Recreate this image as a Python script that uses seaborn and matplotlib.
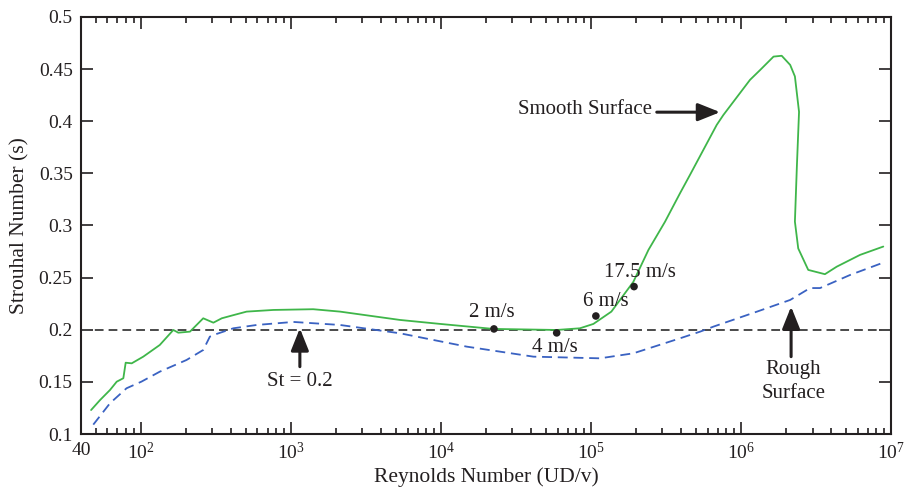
import matplotlib
matplotlib.use("Agg")
import matplotlib.pyplot as plt
import matplotlib.ticker as mticker
import pandas as pd
import seaborn as sns

# ── Data ─────────────────────────────────────────────────────────────────────
smooth_re = [46.7, 53.6, 62.4, 69.2, 76.6, 79.4, 87.1, 104, 134, 165, 178, 213,
             261, 305, 347, 414, 508, 766, 1410, 2130, 5350, 9890, 22400,
             59200, 84500, 104000, 137000, 192000, 242000, 312000, 393000,
             458000, 690000, 764000, 1150000, 1340000, 1650000, 1870000,
             2130000, 2290000, 2440000, 2360000, 2290000, 2410000, 2810000,
             3630000, 4350000, 6220000, 8890000]
smooth_st = [0.123, 0.1326, 0.1422, 0.1502, 0.1535, 0.1684, 0.1678, 0.1742,
             0.1854, 0.1998, 0.1972, 0.1982, 0.2110, 0.2068, 0.2110, 0.2140,
             0.2174, 0.2190, 0.2197, 0.2174, 0.2094, 0.2056, 0.2008, 0.1998,
             0.2014, 0.2056, 0.2174, 0.2460, 0.2766, 0.3036, 0.3310, 0.3486,
             0.3965, 0.4060, 0.4397, 0.4490, 0.4620, 0.4628, 0.4540, 0.4430,
             0.4090, 0.3565, 0.3037, 0.2780, 0.2574, 0.2533, 0.2605, 0.2718,
             0.2798]

rough_re = [48.3, 62.4, 80.5, 101, 134, 202, 261, 289, 321, 414, 593, 1040,
            2130, 5350, 14900, 41400, 115000, 192000, 393000, 535000, 656000,
            1280000, 2130000, 2890000, 3370000, 5350000, 8890000]
rough_st = [0.109, 0.1295, 0.1439, 0.1502, 0.1598, 0.1710, 0.1806, 0.1934,
            0.1960, 0.2014, 0.2046, 0.2075, 0.2046, 0.1966, 0.1838, 0.1742,
            0.1726, 0.1774, 0.1918, 0.1982, 0.2030, 0.2174, 0.2286, 0.2400,
            0.2400, 0.2526, 0.2644]

speed_labels = ["2 m/s", "4 m/s", "6 m/s", "17.5 m/s"]
speed_re = [22600, 59200, 108000, 194000]
speed_st = [0.2008, 0.1970, 0.2132, 0.2414]

st_ref = 0.2

xtick_vals = [40, 1e2, 1e3, 1e4, 1e5, 1e6, 1e7]
xtick_labels = ["40", r"$10^2$", r"$10^3$", r"$10^4$", r"$10^5$", r"$10^6$",
                r"$10^7$"]
ytick_vals = [0.1, 0.15, 0.2, 0.25, 0.3, 0.35, 0.4, 0.45, 0.5]
ytick_labels = ["0.1", "0.15", "0.2", "0.25", "0.3", "0.35", "0.4", "0.45",
                "0.5"]

# ── Style ─────────────────────────────────────────────────────────────────────
GREEN = "#3fb64a"
BLUE = "#3a62c2"
INK = "#231f20"

sns.set_theme(style="ticks")
plt.rcParams["font.family"] = ["Liberation Serif", "DejaVu Serif"]
plt.rcParams.update({
    "mathtext.fontset": "custom",
    "mathtext.rm": "Liberation Serif",
    "mathtext.it": "Liberation Serif:italic",
    "text.color": INK,
    "axes.labelcolor": INK,
    "xtick.color": INK,
    "ytick.color": INK,
})

smooth = pd.DataFrame({"Re": smooth_re, "St": smooth_st})
rough = pd.DataFrame({"Re": rough_re, "St": rough_st})
speeds = pd.DataFrame({"Re": speed_re, "St": speed_st})

fig, ax = plt.subplots(figsize=(9.06, 4.95), dpi=100)
fig.subplots_adjust(left=0.0894, right=0.9834, bottom=0.1232, top=0.9657)

ax.set_xscale("log")
ax.axhline(st_ref, color="#4a4a4a", lw=1.4, ls=(0, (4.5, 2.6)), zorder=1)
sns.lineplot(data=rough, x="Re", y="St", sort=False, estimator=None,
             color=BLUE, lw=1.3, linestyle=(0, (5.5, 3.2)), ax=ax)
sns.lineplot(data=smooth, x="Re", y="St", sort=False, estimator=None,
             color=GREEN, lw=1.3, ax=ax)
sns.scatterplot(data=speeds, x="Re", y="St", color=INK, s=30,
                edgecolor="none", zorder=5, ax=ax)

offsets = [(-1.5, 11.5), (-1.5, -10.5), (7, 10.5), (4, 10.5)]
for lab, x, y, off in zip(speed_labels, speed_re, speed_st, offsets):
    ax.annotate(lab, (x, y), xytext=off, textcoords="offset points",
                ha="center", va="center", fontsize=15)

# arrows + labels
arrow = dict(arrowstyle="-|>,head_length=0.75,head_width=0.3", lw=2.2,
             color=INK, mutation_scale=18, shrinkA=0, shrinkB=0)
ax.annotate("", xy=(1150, 0.2014), xytext=(1150, 0.1646), arrowprops=arrow)
ax.text(1150, 0.150, "St = 0.2", ha="center", va="center", fontsize=15)

ax.annotate("", xy=(727000, 0.4087), xytext=(275000, 0.4087), arrowprops=arrow)
ax.text(255000, 0.411, "Smooth Surface", ha="right", va="center", fontsize=15)

ax.annotate("", xy=(2160000, 0.2222), xytext=(2160000, 0.1742), arrowprops=arrow)
ax.text(2230000, 0.1504, "Rough\nSurface", ha="center", va="center",
        fontsize=15, linespacing=1.3)

# axes
ax.set_xlim(40, 1e7)
ax.set_ylim(0.1, 0.5)
ax.xaxis.set_major_locator(mticker.FixedLocator(xtick_vals))
ax.xaxis.set_major_formatter(mticker.FixedFormatter(xtick_labels))
ax.xaxis.set_minor_locator(mticker.LogLocator(base=10, subs=range(2, 10),
                                              numticks=20))
ax.xaxis.set_minor_formatter(mticker.NullFormatter())
ax.set_yticks(ytick_vals)
ax.set_yticklabels(ytick_labels)
ax.tick_params(which="both", direction="in", top=True, right=True,
               width=1.2, color=INK, labelsize=14)
ax.tick_params(which="major", length=8.5, pad=6)
ax.tick_params(which="minor", length=4.5)
for sp in ax.spines.values():
    sp.set_linewidth(1.5)
    sp.set_color(INK)

ax.set_xlabel("Reynolds Number (UD/v)", fontsize=15.5)
ax.set_ylabel("Strouhal Number (s)", fontsize=15.5)
ax.xaxis.set_label_coords(0.5, -0.08)
ax.yaxis.set_label_coords(-0.064, 0.5)

fig.savefig("out.png", dpi=100)
plt.close()
